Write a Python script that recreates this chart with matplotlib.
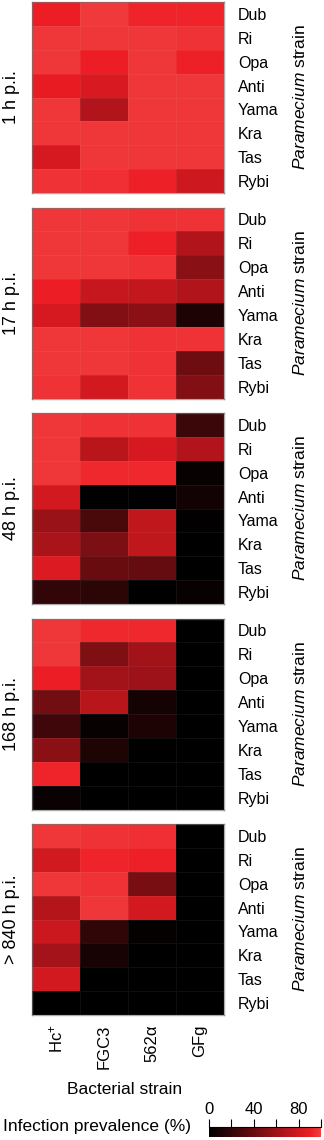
import numpy as np
import matplotlib
matplotlib.use("Agg")
import matplotlib.pyplot as plt
from matplotlib.colors import LinearSegmentedColormap

plt.rcParams['font.family'] = ['Liberation Sans', 'DejaVu Sans']
plt.rcParams['mathtext.fontset'] = 'custom'
plt.rcParams['mathtext.rm'] = 'Liberation Sans'
plt.rcParams['mathtext.it'] = 'Liberation Sans:italic'

timepoints = ["1 h p.i.", "17 h p.i.", "48 h p.i.", "168 h p.i.", "> 840 h p.i."]
paramecium = ["Dub", "Ri", "Opa", "Anti", "Yama", "Kra", "Tas", "Rybi"]
bacteria = [r"Hc$^{+}$", "FGC3", "562α", "GFg"]

# infection prevalence (%) ; rows = Paramecium strain, cols = bacterial strain
prev_1h = [[90, 98, 92, 92],
           [97, 97, 97, 96],
           [97, 90, 97, 91],
           [88, 82, 97, 97],
           [97, 67, 97, 97],
           [97, 97, 97, 97],
           [81, 97, 97, 97],
           [96, 95, 91, 78]]
prev_17h = [[97, 97, 96, 96],
            [97, 97, 91, 67],
            [97, 97, 96, 52],
            [90, 75, 74, 67],
            [81, 49, 53, 11],
            [97, 97, 96, 96],
            [97, 97, 96, 42],
            [96, 80, 96, 49]]
prev_48h = [[97, 96, 96, 23],
            [97, 70, 81, 67],
            [97, 93, 93, 3],
            [80, 0, 0, 7],
            [58, 28, 73, 1],
            [64, 47, 73, 0],
            [83, 40, 38, 0],
            [19, 17, 0, 3]]
prev_168h = [[97, 93, 93, 0],
             [97, 48, 61, 0],
             [90, 61, 59, 0],
             [43, 70, 8, 0],
             [24, 3, 11, 0],
             [53, 12, 0, 0],
             [92, 0, 0, 0],
             [4, 0, 0, 0]]
prev_840h = [[97, 96, 95, 0],
             [79, 92, 91, 0],
             [97, 96, 46, 0],
             [68, 97, 80, 0],
             [77, 18, 2, 0],
             [62, 9, 0, 0],
             [80, 0, 0, 0],
             [0, 0, 0, 0]]
panels = [prev_1h, prev_17h, prev_48h, prev_168h, prev_840h]

cmap = LinearSegmentedColormap.from_list(
    "blackred", [(0.0, "#000000"), (0.9, "#ED1C24"), (1.0, "#F04040")])

W, H = 324, 1140
fig = plt.figure(figsize=(W / 100, H / 100), dpi=100)

left, width = 32, 192
tops = [2, 207.5, 413, 618.5, 824]
ph = 191

for i, (data, tp) in enumerate(zip(panels, timepoints)):
    top = tops[i]
    ax = fig.add_axes([left / W, 1 - (top + ph) / H, width / W, ph / H])
    arr = np.array(data, dtype=float)
    ax.pcolormesh(np.arange(len(bacteria) + 1), np.arange(len(paramecium) + 1), arr,
                  cmap=cmap, vmin=0, vmax=100,
                  edgecolors=(1, 1, 1, 0.06), linewidth=0.6)
    ax.set_xlim(0, len(bacteria))
    ax.set_ylim(len(paramecium), 0)
    ax.yaxis.tick_right()
    ax.set_yticks(np.arange(len(paramecium)) + 0.5)
    ax.set_yticklabels(paramecium, fontsize=11.5)
    ax.tick_params(axis='y', length=0, pad=10)
    for s in ax.spines.values():
        s.set_color((0.45, 0.45, 0.45, 0.6))
        s.set_linewidth(1.0)
    if i == len(panels) - 1:
        ax.set_xticks(np.arange(len(bacteria)) + 0.5)
        ax.set_xticklabels(bacteria, rotation=90, fontsize=12)
        ax.tick_params(axis='x', length=0, pad=7)
    else:
        ax.set_xticks([])
    cy = 1 - (top + ph / 2) / H
    fig.text(12 / W, cy, tp, rotation=90, ha='center', va='center', fontsize=13)
    fig.text(300 / W, cy, r"$\it{Paramecium}$ strain", rotation=90,
             ha='center', va='center', fontsize=12.5)

fig.text(125 / W, 1 - 1090 / H, "Bacterial strain", ha='center', va='center', fontsize=12.5)
fig.text(3 / W, 1 - 1126 / H, "Infection prevalence (%)", ha='left', va='center', fontsize=12.5)

# colour bar
cax = fig.add_axes([209 / W, 1 - 1137 / H, 112 / W, 10 / H])
grad = np.linspace(0, 100, 256).reshape(1, -1)
cax.imshow(grad, aspect='auto', cmap=cmap, vmin=0, vmax=100, extent=[0, 100, 0, 1])
cax.set_xlim(0, 100)
cax.set_yticks([])
cax.xaxis.tick_top()
cax.set_xticks([0, 40, 80])
cax.set_xticks([20, 60, 100], minor=True)
cax.tick_params(axis='x', which='both', direction='out', length=6, width=0.8, pad=1, labelsize=12)
for k in ['left', 'right', 'bottom']:
    cax.spines[k].set_visible(False)
cax.spines['top'].set_linewidth(0.8)

fig.savefig("out.png", dpi=100)
